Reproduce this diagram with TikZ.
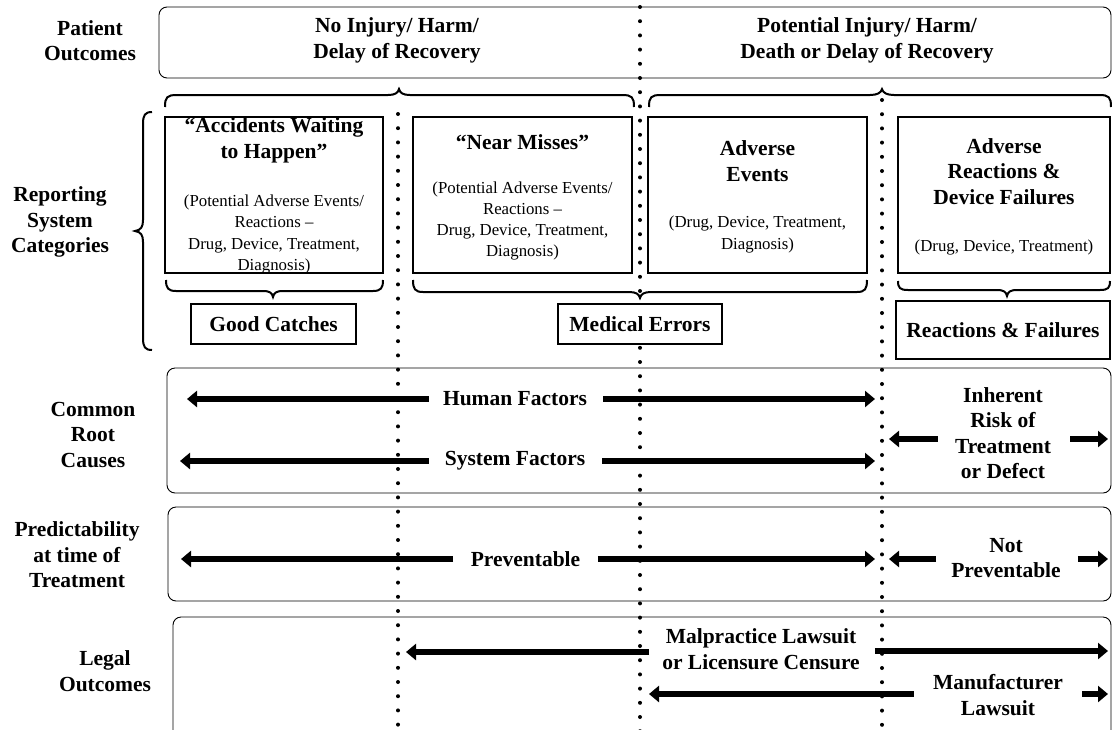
\documentclass[tikz,border=0pt]{standalone}
\usepackage{fontspec}
\setmainfont{Liberation Serif}
\usetikzlibrary{arrows.meta}
\begin{document}
\begin{tikzpicture}[x=1pt,y=-1pt,
  big/.style={font=\fontsize{21.5}{25.5}\selectfont\bfseries, align=center, inner sep=0pt},
  small/.style={font=\fontsize{16.8}{21.3}\selectfont, align=center, inner sep=0pt},
  catbox/.style={draw, line width=1.2pt, fill=white, inner sep=0pt},
  panel/.style={draw, line width=0.9pt, rounded corners=8pt},
  brace/.style={draw, line width=2pt},
  dotline/.style={line width=4pt, line cap=round, dash pattern=on 0pt off 14.2pt},
  bigarrow/.style={line width=6.5pt, -{Triangle[length=10pt,width=16pt]}}
]
\useasboundingbox (0,0) rectangle (1112,729);
\clip (0,0) rectangle (1112,729);

% dotted separators
\draw[dotline] (640,7) -- (640,740);
\draw[dotline] (398,114) -- (398,740);
\draw[dotline] (882,100) -- (882,740);

% left labels
\node[big] (lab1) at (90,40.5) {Patient\\Outcomes};
\node[big] (lab2) at (60,222) {Reporting\\System\\Categories};
\node[big] (lab3) at (93,435) {Common\\Root\\Causes};
\node[big] (lab4) at (77,555) {Predictability\\at time of\\Treatment};
\node[big] (lab5) at (105,671) {Legal\\Outcomes};

% top panel
\draw[panel] (159,7) rectangle (1111,78);
\node[big] (h1) at (397,40.5) {No Injury/ Harm/\\Delay of Recovery};
\node[big] (h2) at (867,40.5) {Potential Injury/ Harm/\\Death or Delay of Recovery};

% upper braces
\draw[brace] (165,107) .. controls (165,97) and (167,95) .. (177,95) -- (388,95)
  .. controls (395,95) and (398,93) .. (399,89) .. controls (400,93) and (403,95) .. (410,95)
  -- (622,95) .. controls (632,95) and (634,97) .. (634,107);
\draw[brace] (649,107) .. controls (649,97) and (651,95) .. (661,95) -- (870,95)
  .. controls (877,95) and (881,93) .. (882,89) .. controls (883,93) and (887,95) .. (894,95)
  -- (1099,95) .. controls (1109,95) and (1111,97) .. (1111,107);

% left vertical brace
\draw[brace] (152,112) .. controls (145,112) and (143,115) .. (143,124) -- (143,220)
  .. controls (143,227) and (141,230) .. (135,231) .. controls (141,232) and (143,235) .. (143,242)
  -- (143,338) .. controls (143,347) and (145,350) .. (152,350);

% category boxes
\node[catbox, minimum width=218pt, minimum height=156pt] (b1) at (274,195) {};
\node[catbox, minimum width=219pt, minimum height=156pt] (b2) at (522.5,195) {};
\node[catbox, minimum width=219pt, minimum height=156pt] (b3) at (757.5,195) {};
\node[catbox, minimum width=212pt, minimum height=156pt] (b4) at (1004,195) {};

\node[big] (t1) at (274,140.5) {“Accidents Waiting\\to Happen”};
\node[small] (s1) at (274,234.5) {(Potential Adverse Events/\\Reactions –\\Drug, Device, Treatment,\\Diagnosis)};
\node[big] (t2) at (522.5,142) {“Near Misses”};
\node[small] (s2) at (522.5,221) {(Potential Adverse Events/\\Reactions –\\Drug, Device, Treatment,\\Diagnosis)};
\node[big] (t3) at (757.5,161) {Adverse\\Events};
\node[small] (s3) at (757.5,234.5) {(Drug, Device, Treatment,\\Diagnosis)};
\node[big] (t4) at (1004,171.5) {Adverse\\Reactions \&\\Device Failures};
\node[small] (s4) at (1004,247) {(Drug, Device, Treatment)};

% lower braces
\draw[brace] (166,280) .. controls (166,288) and (168,291) .. (176,291) -- (263,291)
  .. controls (270,291) and (272,293) .. (273,297) .. controls (274,293) and (276,291) .. (283,291)
  -- (373,291) .. controls (381,291) and (383,288) .. (383,280);
\draw[brace] (413,280) .. controls (413,289) and (415,292) .. (423,292) -- (629,292)
  .. controls (636,292) and (639,294) .. (640,298) .. controls (641,294) and (644,292) .. (651,292)
  -- (857,292) .. controls (865,292) and (867,289) .. (867,280);
\draw[brace] (898,281) .. controls (898,288) and (900,290) .. (908,290) -- (997,290)
  .. controls (1004,290) and (1006,292) .. (1007,296) .. controls (1008,292) and (1010,290) .. (1017,290)
  -- (1100,290) .. controls (1108,290) and (1110,288) .. (1110,281);

% summary boxes
\node[catbox, big, minimum width=165pt, minimum height=40pt] (gc) at (273.5,324) {Good Catches};
\node[catbox, big, minimum width=164pt, minimum height=40pt] (me) at (640,324) {Medical Errors};
\node[catbox, big, minimum width=214pt, minimum height=58pt] (rf) at (1003,330) {Reactions \& Failures};

% panels
\draw[panel] (167,368) rectangle (1111,493);
\draw[panel] (168,507) rectangle (1111,601);
\draw[panel] (173,745) |- (1111,617) -- (1111,745);

% common root causes
\node[big] (hf) at (515,399) {Human Factors};
\coordinate (hfL) at (187,399);
\coordinate (hfR) at (875,399);
\draw[bigarrow] ([xshift=-14pt]hf.west) -- (hfL);
\draw[bigarrow] ([xshift=16pt]hf.east) -- (hfR);

\node[big] (sf) at (515,461) {System Factors};
\coordinate (sfL) at (180,461);
\coordinate (sfR) at (875,461);
\draw[bigarrow] ([xshift=-16pt]sf.west) -- (sfL);
\draw[bigarrow] ([xshift=17pt]sf.east) -- (sfR);

\node[big] (ir) at (1003,433) {Inherent\\Risk of\\Treatment\\or Defect};
\coordinate (irL) at (889,439);
\coordinate (irR) at (1108,439);
\draw[bigarrow] ([xshift=-17pt]ir.west |- irL) -- (irL);
\draw[bigarrow] ([xshift=19pt]ir.east |- irR) -- (irR);

% predictability
\node[big] (pv) at (525.5,559) {Preventable};
\coordinate (pvL) at (181,559);
\coordinate (pvR) at (875,559);
\draw[bigarrow] ([xshift=-17.5pt]pv.west) -- (pvL);
\draw[bigarrow] ([xshift=17.5pt]pv.east) -- (pvR);

\node[big] (np) at (1006,558) {Not\\Preventable};
\coordinate (npL) at (889,559);
\coordinate (npR) at (1108,559);
\draw[bigarrow] ([xshift=-15pt]np.west |- npL) -- (npL);
\draw[bigarrow] ([xshift=17pt]np.east |- npR) -- (npR);

% legal outcomes
\node[big] (ml) at (761,649) {Malpractice Lawsuit\\or Licensure Censure};
\coordinate (mlL) at (406,652);
\coordinate (mlR) at (1108,651);
\draw[bigarrow] ([xshift=-13pt]ml.west |- mlL) -- (mlL);
\draw[bigarrow] ([xshift=15pt]ml.east |- mlR) -- (mlR);

\node[big] (mf) at (998,695) {Manufacturer\\Lawsuit};
\coordinate (mfL) at (649,694);
\coordinate (mfR) at (1108,694);
\draw[bigarrow] ([xshift=-19pt]mf.west |- mfL) -- (mfL);
\draw[bigarrow] ([xshift=19pt]mf.east |- mfR) -- (mfR);
\end{tikzpicture}
\end{document}
